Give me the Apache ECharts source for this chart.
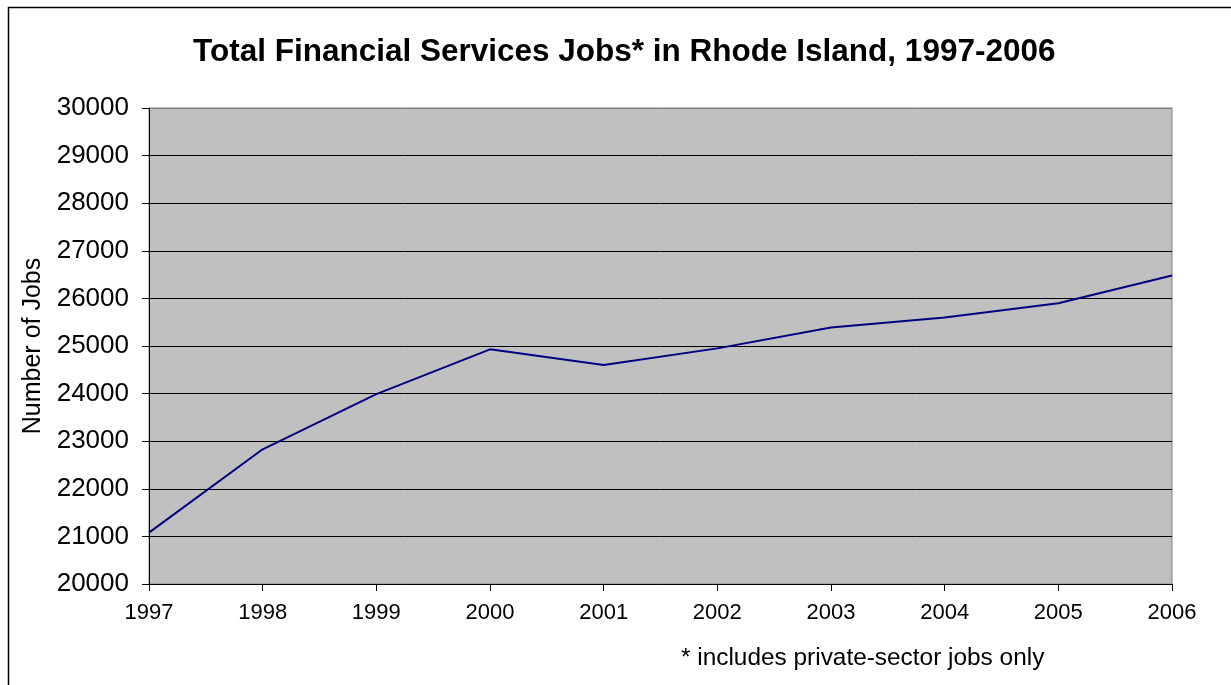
<!DOCTYPE html>
<html>
<head>
<meta charset="utf-8">
<script src="https://cdn.jsdelivr.net/npm/echarts@6/dist/echarts.min.js"></script>
<style>
html,body{margin:0;padding:0;background:#fff;}
#chart{width:1231px;height:685px;}
</style>
</head>
<body>
<div id="chart"></div>
<script>
const years = ['1997','1998','1999','2000','2001','2002','2003','2004','2005','2006'];
const jobs = [21080, 22830, 23990, 24930, 24600, 24950, 25390, 25600, 25900, 26480];
const titleText = 'Total Financial Services Jobs* in Rhode Island, 1997-2006';
const yAxisTitle = 'Number of Jobs';
const footnote = '* includes private-sector jobs only';

const FONT = '"Liberation Sans", Arial, sans-serif';
const gridColors = ['#000','#000','#000','#000','#000','#000','#000','#000','#000','#000','#808080'];
const chart = echarts.init(document.getElementById('chart'));
chart.setOption({
  animation: false,
  backgroundColor: '#ffffff',
  title: {
    text: titleText,
    left: 188,
    top: 31,
    textStyle: { fontFamily: FONT, fontWeight: 'bold', fontSize: 31.5, color: '#000' }
  },
  grid: {
    left: 149, top: 108, right: 59, bottom: 101,
    show: true, backgroundColor: '#C0C0C0', borderColor: '#808080', borderWidth: 1
  },
  xAxis: {
    type: 'category',
    data: years,
    boundaryGap: false,
    axisLine: { lineStyle: { color: '#000', width: 1 } },
    axisTick: { show: true, length: 7, lineStyle: { color: '#000' }, alignWithLabel: true },
    axisLabel: { fontFamily: FONT, fontSize: 22, color: '#000', margin: 18 },
    splitLine: { show: false }
  },
  yAxis: {
    type: 'value',
    min: 20000, max: 30000, interval: 1000,
    name: yAxisTitle,
    nameLocation: 'middle',
    nameGap: 103,
    nameRotate: 90,
    nameTextStyle: { fontFamily: FONT, fontSize: 25, color: '#000' },
    axisLine: { show: true, lineStyle: { color: '#000', width: 1 } },
    axisTick: { show: true, length: 7, lineStyle: { color: '#000' } },
    axisLabel: { fontFamily: FONT, fontSize: 26, color: '#000', margin: 20, formatter: function (v) { return String(v); } },
    splitLine: { show: true, lineStyle: { color: gridColors, width: 1 } }
  },
  series: [{
    type: 'line',
    data: jobs,
    showSymbol: false,
    symbol: 'none',
    lineStyle: { color: '#000080', width: 2 },
    itemStyle: { color: '#000080' }
  }],
  graphic: [
    { type: 'rect', shape: { x: 8.5, y: 7.5, width: 1260, height: 720 }, style: { fill: 'none', stroke: '#000', lineWidth: 1.5 }, z: -10, silent: true },
    { type: 'text', left: 681, top: 646, style: { text: footnote, font: '24.4px "Liberation Sans", Arial, sans-serif', fill: '#000' } }
  ]
});
</script>
</body>
</html>
